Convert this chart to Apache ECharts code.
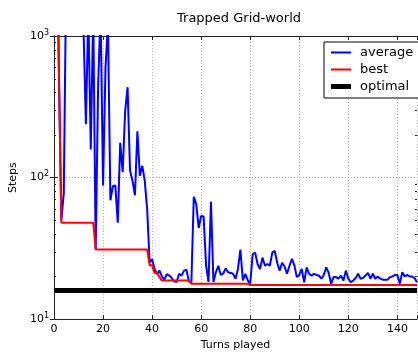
<!DOCTYPE html>
<html><head><meta charset="utf-8">
<script src="https://cdn.jsdelivr.net/npm/echarts@6/dist/echarts.min.js"></script>
<style>html,body{margin:0;padding:0;background:#fff}#c{width:418px;height:356px}</style>
</head><body><div id="c"></div>
<script>
// Turn numbers 1..148
const turns = Array.from({length: 148}, (_, i) => i + 1);

const average = [
  11000, 550, 50, 78, 3000, 3000, 3000, 3000, 3000, 3000,
  3000, 1200, 238, 1500, 158, 1500, 31, 450, 1500, 88,
  600, 1200, 69, 87, 88, 48, 176, 109, 292, 435,
  112, 95, 75, 212, 103, 121, 95, 59, 25, 26.5,
  22.6, 20.8, 22, 20, 19, 20.8, 20.3, 19.5, 18.5, 18.3,
  20.9, 20.3, 22, 22.3, 18.5, 18.1, 73, 65, 44, 53.6,
  53, 24, 18.3, 67.5, 18.3, 21.4, 23.8, 20.5, 21, 22.8,
  21.4, 21.2, 20.9, 19.3, 22.6, 31, 18.75, 20.9, 18.75, 17.8,
  28.7, 29.5, 24.5, 22.6, 27.2, 23.8, 24.5, 23.8, 29.5, 30.3,
  25, 22, 25, 23.5, 20.9, 23.8, 26.6, 24, 19.8, 20.5,
  22.6, 18.2, 23.2, 20.9, 20.3, 20.9, 20.5, 20.3, 19.3, 20.5,
  23.2, 21.2, 17.8, 19.8, 19.8, 19.3, 20.3, 18.75, 22, 19.3,
  18.2, 18.75, 19.5, 20.9, 19.3, 19.5, 20.3, 21.2, 19.3, 20.9,
  19.3, 20, 19.3, 19, 19, 19, 19.8, 20, 20.5, 20.5,
  17.8, 21.4, 20, 20.5, 20, 20, 19.5, 18.2
];

const best = [
  11000, 550, 48, 48, 48, 48, 48, 48, 48, 48,
  48, 48, 48, 48, 48, 48, 31, 31, 31, 31,
  31, 31, 31, 31, 31, 31, 31, 31, 31, 31,
  31, 31, 31, 31, 31, 31, 31, 31, 24, 24,
  21.2, 21.2, 19.8, 18.7, 18.7, 18.7, 18.7, 18.7, 18.7, 18.7,
  18.7, 18.7, 18.7, 18.7, 18.7, 17.8, 17.8, 17.8, 17.8, 17.8,
  17.8, 17.8, 17.8, 17.8, 17.8, 17.8, 17.8, 17.8, 17.8, 17.8,
  17.8, 17.8, 17.8, 17.8, 17.8, 17.8, 17.8, 17.8, 17.8, 17.4,
  17.4, 17.4, 17.4, 17.4, 17.4, 17.4, 17.4, 17.4, 17.4, 17.4,
  17.4, 17.4, 17.4, 17.4, 17.4, 17.4, 17.4, 17.4, 17.4, 17.4,
  17.4, 17.4, 17.4, 17.4, 17.4, 17.4, 17.4, 17.4, 17.4, 17.4,
  17.4, 17.4, 17.4, 17.4, 17.4, 17.4, 17.4, 17.4, 17.4, 17.4,
  17.4, 17.4, 17.4, 17.4, 17.4, 17.4, 17.4, 17.4, 17.4, 17.4,
  17.4, 17.4, 17.4, 17.4, 17.4, 17.4, 17.4, 17.4, 17.4, 17.4,
  17.4, 17.4, 17.4, 17.4, 17.4, 17.4, 17.4, 17.4
];

const optimal = 16;
const seriesNames = ['average', 'best', 'optimal'];
const xTicks = [0, 20, 40, 60, 80, 100, 120, 140];
const yMinorTicks = [20, 30, 40, 50, 60, 70, 80, 90, 200, 300, 400, 500, 600, 700, 800, 900];

const FONT = 'DejaVu Sans';
const chart = echarts.init(document.getElementById('c'), null, {renderer: 'canvas'});

const gridLine = {show: true, lineStyle: {color: '#b0b0b0', type: [1, 2], width: 1}};
const axisLine = {show: true, lineStyle: {color: '#222', width: 1}};
const thinIcon = 'path://M0,0H20V2H0Z';
const thickIcon = 'path://M0,0H20V5H0Z';

chart.setOption({
  animation: false,
  backgroundColor: '#fff',
  title: {
    text: 'Trapped Grid-world', left: 234, top: 7, textAlign: 'center',
    textStyle: {fontFamily: FONT, fontSize: 13, fontWeight: 'normal', color: '#000'}
  },
  legend: {
    data: [
      {name: seriesNames[0], icon: thinIcon},
      {name: seriesNames[1], icon: thinIcon},
      {name: seriesNames[2], icon: thickIcon}
    ],
    orient: 'vertical', left: 324, top: 42, symbolKeepAspect: true,
    padding: [4, 6, 5, 7], itemGap: 4, itemWidth: 20, itemHeight: 13,
    borderColor: '#000', borderWidth: 1, backgroundColor: '#fff',
    textStyle: {fontFamily: FONT, fontSize: 13, color: '#000', padding: [0, 0, 0, 4]}
  },
  grid: {left: 50, right: 1, top: 36, bottom: 32},
  xAxis: [{
    type: 'value', min: 0, max: 148, interval: 20, position: 'bottom',
    name: 'Turns played', nameLocation: 'middle', nameGap: 17,
    nameTextStyle: {fontFamily: FONT, fontSize: 11, color: '#000'},
    axisLine: axisLine, axisTick: {show: true, inside: true, length: 4, lineStyle: {color: '#222'}},
    axisLabel: {fontFamily: FONT, fontSize: 11, color: '#000', margin: 5,
      customValues: xTicks, formatter: v => String(v)},
    splitLine: gridLine
  }, {
    type: 'value', min: 0, max: 148, interval: 20, position: 'top',
    axisLine: axisLine, axisTick: {show: true, inside: true, length: 4, lineStyle: {color: '#222'}},
    axisLabel: {show: false}, splitLine: {show: false}
  }],
  yAxis: [{
    type: 'log', logBase: 10, min: 10, max: 1000, position: 'left',
    name: 'Steps', nameLocation: 'middle', nameGap: 27,
    nameTextStyle: {fontFamily: FONT, fontSize: 11, color: '#000'},
    axisLine: axisLine, axisTick: {show: true, inside: true, length: 4, lineStyle: {color: '#222'}},
    axisLabel: {
      fontFamily: FONT, margin: 5, color: '#000',
      formatter: v => '{a|10}{b|' + Math.round(Math.log10(v)) + '}',
      rich: {a: {fontFamily: FONT, fontSize: 11, color: '#000'},
             b: {fontFamily: FONT, fontSize: 8, color: '#000', padding: [0, 0, 7, 0]}}
    },
    splitLine: gridLine
  }, {
    type: 'log', logBase: 10, min: 10, max: 1000, position: 'right',
    axisLine: axisLine, axisTick: {show: true, inside: true, length: 4, lineStyle: {color: '#222'}},
    axisLabel: {show: false}, splitLine: {show: false}
  }],
  series: [{
    name: seriesNames[0], type: 'line', xAxisIndex: 0, yAxisIndex: 0,
    data: turns.map((t, i) => [t, average[i]]),
    showSymbol: false, symbol: 'none', clip: true,
    lineStyle: {color: '#0000ff', width: 2}, itemStyle: {color: '#0000ff'}, z: 2
  }, {
    name: seriesNames[1], type: 'line', xAxisIndex: 0, yAxisIndex: 0,
    data: turns.map((t, i) => [t, best[i]]),
    showSymbol: false, symbol: 'none', clip: true,
    lineStyle: {color: '#ff0000', width: 2}, itemStyle: {color: '#ff0000'}, z: 3
  }, {
    name: seriesNames[2], type: 'line', xAxisIndex: 0, yAxisIndex: 0,
    data: [], symbol: 'none',
    lineStyle: {color: '#000', width: 5}, itemStyle: {color: '#000'}, z: 4,
    markLine: {
      silent: true, symbol: ['none', 'none'], label: {show: false},
      lineStyle: {color: '#000', width: 5, type: 'solid'},
      data: [{yAxis: optimal}]
    }
  }]
});

// minor ticks of the log axis, placed through the axis scale
const gridRect = chart.getModel().getComponent('grid').coordinateSystem.getRect();
const minor = [];
yMinorTicks.forEach(v => {
  const y = Math.round(chart.convertToPixel({yAxisIndex: 0}, v)) + 0.5;
  minor.push({type: 'line', shape: {x1: gridRect.x, y1: y, x2: gridRect.x + 2, y2: y}, style: {stroke: '#222', lineWidth: 1}, silent: true});
  minor.push({type: 'line', shape: {x1: gridRect.x + gridRect.width - 2, y1: y, x2: gridRect.x + gridRect.width, y2: y}, style: {stroke: '#222', lineWidth: 1}, silent: true});
});
chart.setOption({graphic: minor});
</script>
</body></html>
